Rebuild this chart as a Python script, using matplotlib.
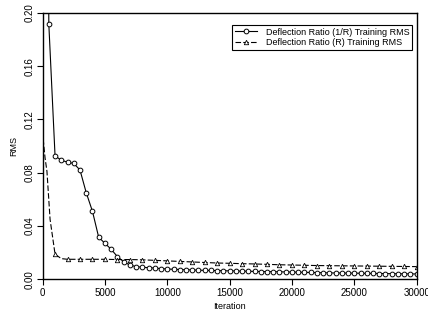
import numpy as np
import matplotlib
matplotlib.use("Agg")
import matplotlib.pyplot as plt

plt.rcParams['font.family'] = ['Liberation Sans', 'DejaVu Sans']

# Deflection Ratio (1/R): sampled every 500 iterations (value at 0 is off the chart)
inv_iter = np.arange(0, 30001, 500)
inv_rms = [1.0, 0.1915, 0.0925, 0.0895, 0.0878, 0.0870, 0.0820, 0.0650, 0.0510, 0.0315,
           0.0270, 0.0225, 0.0170, 0.0132, 0.0107, 0.0095, 0.0090, 0.0087, 0.0084, 0.0080,
           0.0077, 0.0075, 0.0073, 0.0071, 0.0070, 0.0068, 0.0067, 0.0066, 0.0065, 0.0064,
           0.0063, 0.0062, 0.0061, 0.0060, 0.0059, 0.0058, 0.0057, 0.0057, 0.0056, 0.0055,
           0.0054, 0.0053, 0.0052, 0.0051, 0.0050, 0.0049, 0.0048, 0.0047, 0.0047, 0.0046,
           0.0046, 0.0045, 0.0044, 0.0044, 0.0043, 0.0043, 0.0042, 0.0041, 0.0041, 0.0040,
           0.0040]

# Deflection Ratio (R): early samples, then every 1000 iterations
r_iter = [0, 50, 200, 350, 600, 1000, 1500, 2000, 3000, 4000, 5000, 6000, 7000, 8000,
          9000, 10000, 11000, 12000, 13000, 14000, 15000, 16000, 17000, 18000, 19000,
          20000, 21000, 22000, 23000, 24000, 25000, 26000, 27000, 28000, 29000, 30000]
r_rms = [0.40, 0.105, 0.091, 0.081, 0.045, 0.0188, 0.0155, 0.0150, 0.0150, 0.0150,
         0.0150, 0.0148, 0.0148, 0.0146, 0.0142, 0.0138, 0.0134, 0.0130, 0.0126, 0.0122,
         0.0120, 0.0117, 0.0115, 0.0112, 0.0109, 0.0107, 0.0105, 0.0103, 0.0102, 0.0101,
         0.0100, 0.0099, 0.0098, 0.0097, 0.0096, 0.0095]
r_marks = [i for i, it in enumerate(r_iter) if it > 0 and it % 1000 == 0]

xticks = [0, 5000, 10000, 15000, 20000, 25000, 30000]
yticks = [0.00, 0.04, 0.08, 0.12, 0.16, 0.20]

fig = plt.figure(figsize=(4.28, 3.21), dpi=100)
ax = fig.add_axes([0.0995, 0.130, 0.874, 0.830])

ax.plot(inv_iter, inv_rms, color='black', lw=0.8, marker='o', ms=3.4,
        mfc='white', mec='black', mew=0.7, markevery=list(range(1, len(inv_iter))),
        label='Deflection Ratio (1/R) Training RMS', clip_on=True)
ax.plot(r_iter, r_rms, color='black', lw=0.8, dashes=(5, 2), marker='^', ms=3.2,
        mfc='white', mec='black', mew=0.6, markevery=r_marks,
        label='Deflection Ratio (R) Training RMS')

ax.set_xlim(0, 30000)
ax.set_ylim(0, 0.2)
ax.set_xticks(xticks)
ax.set_xticklabels([str(t) for t in xticks])
ax.set_yticks(yticks)
ax.set_yticklabels(['%.2f' % t for t in yticks], rotation=90, va='center')
ax.tick_params(direction='out', length=4, width=0.8, labelsize=7, pad=2)
for s in ax.spines.values():
    s.set_linewidth(1.0)

ax.set_xlabel('Iteration', fontsize=6.5, labelpad=3)
ax.set_ylabel('RMS', fontsize=6.5, labelpad=4)

leg = ax.legend(loc='upper right', bbox_to_anchor=(0.988, 0.955), fontsize=6.5,
                frameon=True, fancybox=False, edgecolor='black', framealpha=1,
                handlelength=2.4, handletextpad=1.0, borderpad=0.3, labelspacing=0.2,
                borderaxespad=0)
leg.get_frame().set_linewidth(0.8)

fig.savefig('out.png', dpi=100)
